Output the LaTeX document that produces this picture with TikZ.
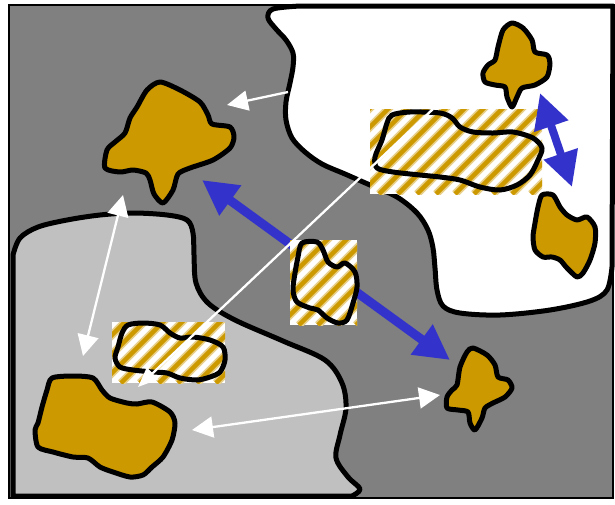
\documentclass[tikz,border=0pt]{standalone}
\usetikzlibrary{arrows.meta}
\definecolor{ochre}{HTML}{CC9900}
\definecolor{darkgr}{HTML}{808080}
\definecolor{lightgr}{HTML}{C0C0C0}
\definecolor{bluearr}{HTML}{3333CC}
\definecolor{stripelt}{HTML}{E8D08A}
\tikzset{
  frame/.style={fill=darkgr, draw=black, line width=2pt},
  region/.style={draw=black, line width=5pt, line join=round},
  blob/.style={fill=ochre, draw=black, line width=5pt, line join=round},
  outline/.style={draw=black, line width=5pt, line join=round},
  whitearrow/.style={draw=white, line width=2.3pt},
  whitetwo/.style={arrows={Triangle[length=21pt,width=21pt]-Triangle[length=21pt,width=21pt]}},
  whiteone/.style={arrows={-Triangle[length=21pt,width=20pt]}},
  bluearrow/.style={draw=bluearr, line width=9pt,
    arrows={Triangle[length=35pt,width=35pt]-Triangle[length=35pt,width=35pt]}},
  smallblue/.style={draw=bluearr, line width=8pt,
    arrows={Triangle[length=35pt,width=34pt]-Triangle[length=35pt,width=34pt]}},
}
\newcommand\hatchbox[4]{%
  \begin{scope}
    \clip (#1,#2) rectangle (#3,#4);
    \fill[white] (#1,#2) rectangle (#3,#4);
    \foreach \k in {-200,-181,...,210}{
      \draw[stripelt, line width=8pt] (#1+\k,#4) -- ++(200,-200);
      \draw[ochre, line width=4.5pt] (#1+\k,#4) -- ++(200,-200);
    }
  \end{scope}}
\begin{document}
\begin{tikzpicture}[x=1pt,y=-1pt]
\useasboundingbox (0,0) rectangle (615,504);
% frame
\path[frame] (9,5) rectangle (613,498);
% white region
\path[region, fill=white] plot[smooth, tension=0.55] coordinates {(300,6) (273,9) (268,18) (276,29) (286,40) (293,53) (293,67) (290,83) (286,102) (286,120) (292,138) (305,152) (322,164) (345,174) (370,185) (397,197) (417,213) (428,230) (433,248) (435,268) (437,290) (443,306) (460,313) (500,315) (550,310) (590,301) (607,290) (612,267)} -- (613,6) -- cycle;
% light gray region
\path[region, fill=lightgr] plot[smooth, tension=0.55] coordinates {(13,255) (20,238) (38,227) (67,220) (100,215) (133,213) (167,215) (187,220) (193,233) (194,255) (196,283) (208,303) (235,320) (283,341) (325,360) (342,383) (346,408) (340,435) (336,458) (348,477) (360,489) (352,496)} -- (13,496) -- cycle;
% big blue arrow
\coordinate (bA) at (202,180);
\coordinate (bB) at (450,360);
\draw[bluearrow] (bA) -- (bB);
% hatched boxes
\hatchbox{370}{109}{542}{194}
\hatchbox{290}{240}{357}{325}
\hatchbox{112}{322}{225}{383}
% outlines inside hatched boxes
\path[outline] plot[smooth cycle, tension=0.5] coordinates {(392,115) (410,112) (440,113) (452,118) (460,127) (473,132) (493,133) (513,132) (533,138) (542,148) (538,160) (530,175) (517,185) (500,190) (480,187) (460,180) (440,177) (420,175) (393,172) (377,168) (375,157) (382,140) (387,123)};
\path[outline] plot[smooth cycle, tension=0.5] coordinates {(302,243) (317,242) (323,250) (328,262) (337,267) (345,263) (355,272) (357,287) (353,303) (347,320) (338,323) (327,318) (318,310) (310,308) (297,302) (293,290) (295,273) (298,257)};
\path[outline] plot[smooth cycle, tension=0.5] coordinates {(128,325) (143,323) (160,325) (170,333) (180,338) (193,337) (210,340) (223,347) (225,360) (220,372) (210,377) (197,380) (180,378) (167,373) (153,372) (133,370) (120,367) (115,358) (118,347) (122,333)};
% blobs
\path[blob] plot[smooth cycle, tension=0.45] coordinates {(160,82) (180,90) (200,102) (208,115) (212,124) (230,127) (234,137) (230,148) (213,160) (190,168) (178,174) (173,190) (163,203) (154,194) (150,180) (146,173) (133,170) (120,172) (105,168) (107,150) (115,142) (125,133) (130,118) (137,107) (147,90)};
\path[blob] plot[smooth cycle, tension=0.45] coordinates {(512,23) (523,28) (532,40) (535,52) (547,55) (550,63) (547,77) (535,85) (522,88) (517,97) (512,107) (507,97) (505,87) (495,85) (485,82) (483,73) (488,65) (495,60) (498,47) (503,30)};
\path[blob] plot[smooth cycle, tension=0.45] coordinates {(542,195) (553,195) (560,207) (567,215) (577,220) (587,217) (595,227) (595,243) (590,260) (583,273) (577,277) (567,268) (560,260) (552,257) (543,257) (535,250) (533,237) (535,223) (538,207)};
\path[blob] plot[smooth cycle, tension=0.45] coordinates {(473,348) (487,355) (495,365) (498,377) (508,380) (512,388) (505,397) (493,403) (485,408) (482,418) (475,430) (470,423) (468,412) (458,410) (447,408) (447,397) (452,390) (457,385) (460,367) (467,352)};
\path[blob] plot[smooth cycle, tension=0.45] coordinates {(52,378) (73,376) (93,378) (102,390) (110,398) (127,403) (137,404) (152,402) (170,412) (175,423) (172,440) (163,457) (152,467) (143,475) (130,477) (113,472) (100,467) (88,458) (73,457) (53,452) (38,447) (35,430) (38,423) (42,407) (47,390)};
% small blue arrow
\coordinate (sA) at (540,93);
\coordinate (sB) at (572,187);
\draw[smallblue] (sA) -- (sB);
% white arrows
\coordinate (w1s) at (288,92);
\coordinate (w1e) at (227,105);
\draw[whitearrow, whiteone] (w1s) -- (w1e);
\coordinate (w2a) at (123,195);
\coordinate (w2b) at (83,356);
\draw[whitearrow, whitetwo] (w2a) -- (w2b);
\coordinate (w3s) at (433,109);
\coordinate (w3e) at (138,387);
\draw[whitearrow, arrows={-Triangle[length=20pt,width=16pt]}] (w3s) -- (w3e);
\coordinate (w4a) at (192,430);
\coordinate (w4b) at (440,395);
\draw[whitearrow, whitetwo] (w4a) -- (w4b);
\end{tikzpicture}
\end{document}
